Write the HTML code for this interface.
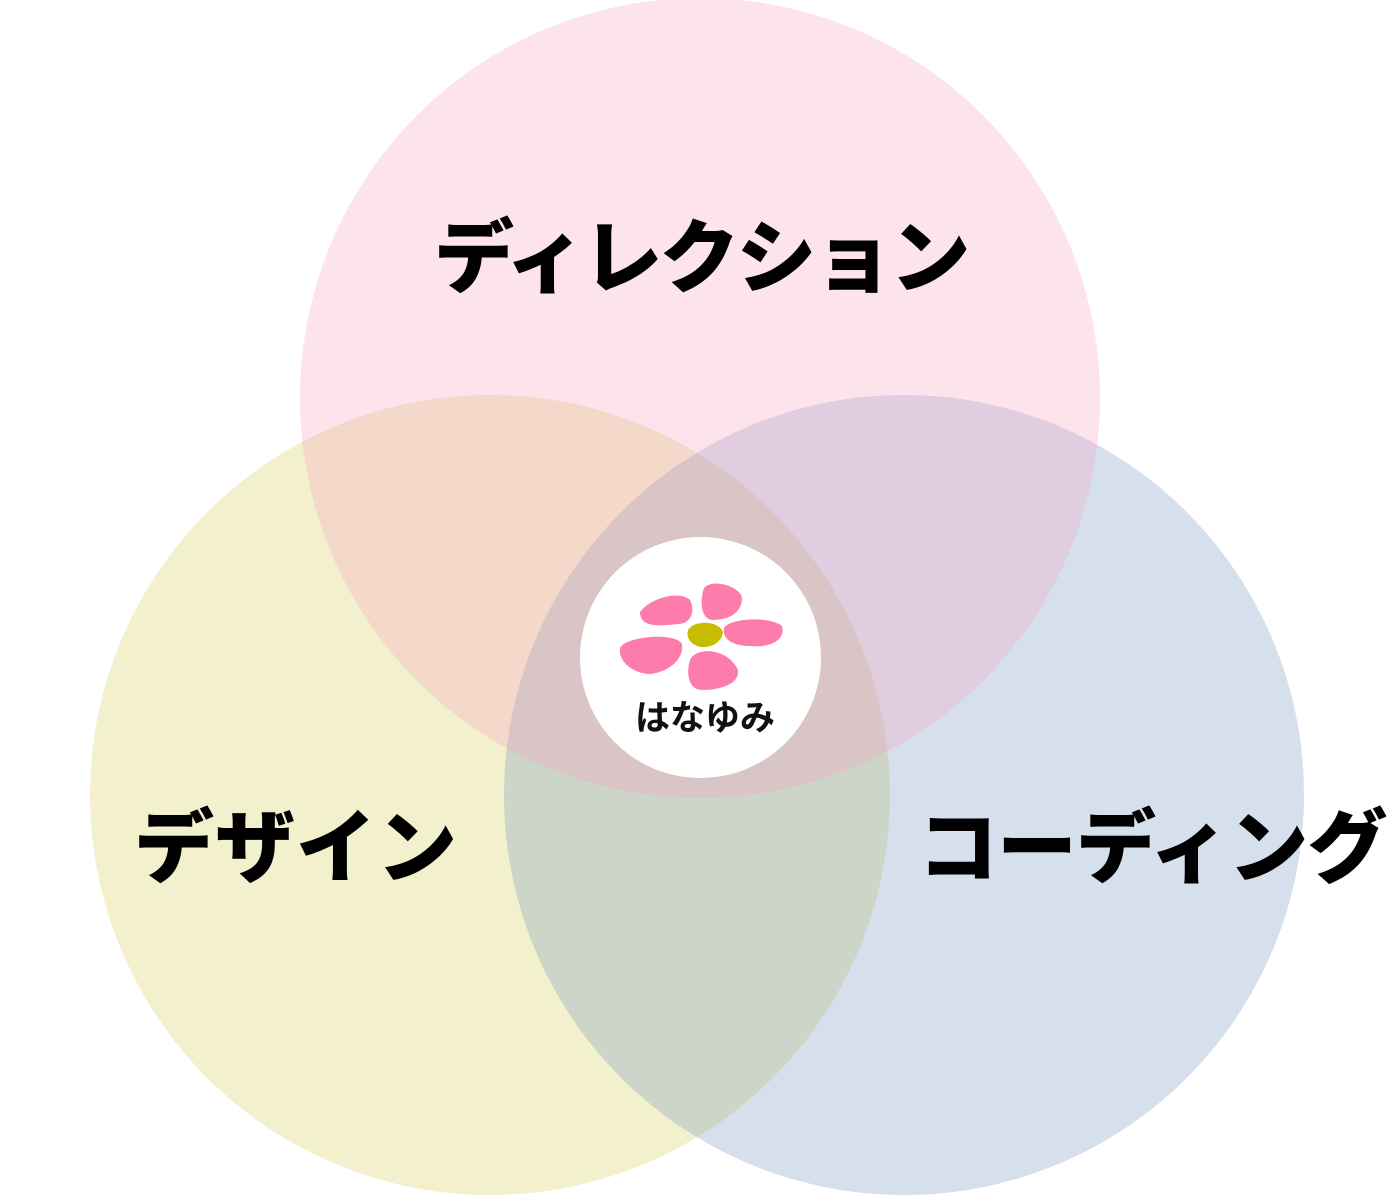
<!DOCTYPE html>
<html><head><meta charset="utf-8"><style>
html,body{margin:0;padding:0;background:#fff}
body{width:1400px;height:1195px;position:relative;overflow:hidden;font-family:"Liberation Sans","Noto Sans CJK JP",sans-serif}
.c{position:absolute;width:800px;height:800px;border-radius:50%}
.t{position:absolute;font-size:80px;font-weight:900;color:#000;white-space:nowrap;line-height:1}
</style></head><body>
<div class="c" style="left:90px;top:395px;background:rgba(212,205,88,0.3)"></div>
<div class="c" style="left:504px;top:395px;background:rgba(118,152,192,0.3)"></div>
<div class="c" style="left:300px;top:-2px;background:rgba(248,162,192,0.3)"></div>
<div style="position:absolute;left:580px;top:537px;width:241px;height:241px;border-radius:50%;background:#fff"></div>
<svg style="position:absolute;left:0;top:0" width="1400" height="1195">
<g fill="#fe7cac">
<path d="M640,612 C650,598 680,590 690,600 C696,612 690,624 678,624 C660,626 640,628 640,612Z"/>
<path d="M704,588 C712,578 740,586 742,598 C742,612 730,620 712,620 C700,618 700,600 704,588Z"/>
<path d="M724,628 C730,618 770,616 782,626 C786,640 770,648 750,646 C734,646 722,640 724,628Z"/>
<path d="M620,648 C626,636 676,632 682,644 C684,660 668,672 650,674 C634,674 618,662 620,648Z"/>
<path d="M690,660 C696,646 728,648 738,670 C740,684 720,690 702,690 C688,690 686,672 690,660Z"/>
</g>
<path d="M688,630 C694,620 718,620 723,632 C722,642 712,648 700,647 C690,644 686,638 688,630Z" fill="#c8bc00"/>
<text x="705" y="730" text-anchor="middle" font-family="Noto Sans CJK JP, sans-serif" font-size="35" font-weight="700" fill="#111">はなゆみ</text>
</svg>
<div class="t" style="left:434px;top:219px;letter-spacing:-3px">ディレクション</div>
<div class="t" style="left:134px;top:809px;letter-spacing:1px">デザイン</div>
<div class="t" style="left:918px;top:809px;letter-spacing:-1px">コーディング</div>
</body></html>
